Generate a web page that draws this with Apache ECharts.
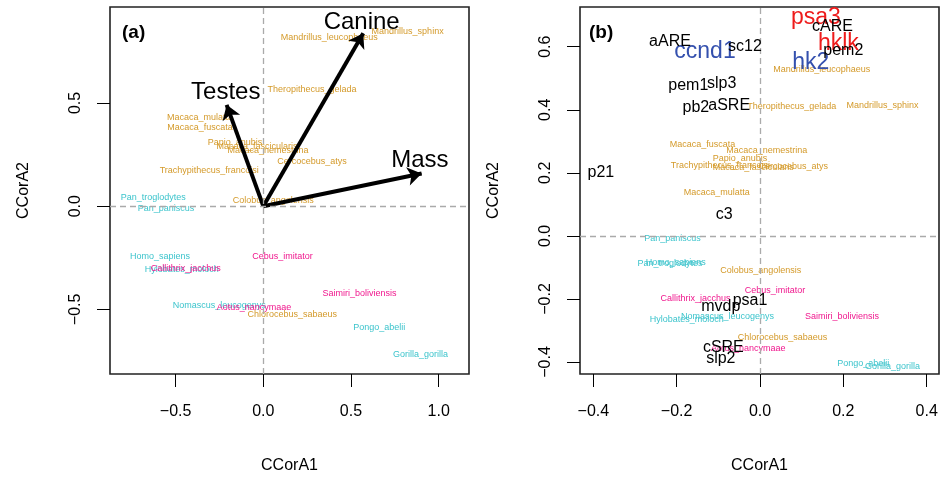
<!DOCTYPE html>
<html>
<head>
<meta charset="utf-8">
<script src="https://cdn.jsdelivr.net/npm/echarts@6/dist/echarts.min.js"></script>
<style>
html, body { margin: 0; padding: 0; background: #fff; }
#main { width: 942px; height: 479px; }
</style>
</head>
<body>
<div id="main"></div>
<script>
// species scores, panel (a): [CCorA1, CCorA2, name, group]
const speciesA = [
  [0.376, 0.816, 'Mandrillus_leucophaeus', 'cerco'],
  [0.823, 0.844, 'Mandrillus_sphinx', 'cerco'],
  [0.278, 0.564, 'Theropithecus_gelada', 'cerco'],
  [-0.361, 0.432, 'Macaca_mulatta', 'cerco'],
  [-0.361, 0.382, 'Macaca_fuscata', 'cerco'],
  [-0.161, 0.309, 'Papio_anubis', 'cerco'],
  [-0.036, 0.288, 'Macaca_fascicularis', 'cerco'],
  [0.027, 0.272, 'Macaca_nemestrina', 'cerco'],
  [0.278, 0.214, 'Cercocebus_atys', 'cerco'],
  [-0.308, 0.171, 'Trachypithecus_francoisi', 'cerco'],
  [0.057, 0.029, 'Colobus_angolensis', 'cerco'],
  [0.165, -0.523, 'Chlorocebus_sabaeus', 'cerco'],
  [-0.627, 0.042, 'Pan_troglodytes', 'ape'],
  [-0.555, -0.010, 'Pan_paniscus', 'ape'],
  [-0.589, -0.246, 'Homo_sapiens', 'ape'],
  [-0.465, -0.309, 'Hylobates_moloch', 'ape'],
  [-0.251, -0.483, 'Nomascus_leucogenys', 'ape'],
  [0.661, -0.588, 'Pongo_abelii', 'ape'],
  [0.897, -0.721, 'Gorilla_gorilla', 'ape'],
  [-0.442, -0.302, 'Callithrix_jacchus', 'nwm'],
  [0.110, -0.242, 'Cebus_imitator', 'nwm'],
  [0.548, -0.422, 'Saimiri_boliviensis', 'nwm'],
  [-0.053, -0.491, 'Aotus_nancymaae', 'nwm']
];

// trait vectors, panel (a): arrow tip and label position
const traitArrows = [
  [0.570, 0.838, 'Canine'],
  [-0.209, 0.491, 'Testes'],
  [0.903, 0.158, 'Mass']
];
const traitLabels = [
  [0.561, 0.889, 'Canine'],
  [-0.214, 0.550, 'Testes'],
  [0.893, 0.221, 'Mass']
];

// species scores, panel (b)
const speciesB = [
  [0.148, 0.527, 'Mandrillus_leucophaeus', 'cerco'],
  [0.076, 0.410, 'Theropithecus_gelada', 'cerco'],
  [0.294, 0.412, 'Mandrillus_sphinx', 'cerco'],
  [-0.138, 0.290, 'Macaca_fuscata', 'cerco'],
  [0.016, 0.271, 'Macaca_nemestrina', 'cerco'],
  [-0.048, 0.244, 'Papio_anubis', 'cerco'],
  [-0.095, 0.222, 'Trachypithecus_francoisi', 'cerco'],
  [-0.016, 0.216, 'Macaca_fascicularis', 'cerco'],
  [0.080, 0.221, 'Cercocebus_atys', 'cerco'],
  [-0.104, 0.139, 'Macaca_mulatta', 'cerco'],
  [0.002, -0.109, 'Colobus_angolensis', 'cerco'],
  [0.054, -0.323, 'Chlorocebus_sabaeus', 'cerco'],
  [-0.210, -0.009, 'Pan_paniscus', 'ape'],
  [-0.202, -0.083, 'Homo_sapiens', 'ape'],
  [-0.216, -0.086, 'Pan_troglodytes', 'ape'],
  [-0.078, -0.256, 'Nomascus_leucogenys', 'ape'],
  [-0.176, -0.265, 'Hylobates_moloch', 'ape'],
  [0.248, -0.405, 'Pongo_abelii', 'ape'],
  [0.318, -0.414, 'Gorilla_gorilla', 'ape'],
  [0.036, -0.172, 'Cebus_imitator', 'nwm'],
  [-0.155, -0.198, 'Callithrix_jacchus', 'nwm'],
  [0.197, -0.257, 'Saimiri_boliviensis', 'nwm'],
  [-0.028, -0.358, 'Aotus_nancymaae', 'nwm']
];

// gene scores, panel (b): [CCorA1, CCorA2, name, type]
const genesB = [
  [0.134, 0.692, 'psa3', 'up'],
  [0.188, 0.611, 'hklk', 'up'],
  [-0.132, 0.584, 'ccnd1', 'down'],
  [0.122, 0.550, 'hk2', 'down'],
  [0.174, 0.664, 'cARE', 'other'],
  [0.200, 0.587, 'pem2', 'other'],
  [-0.216, 0.617, 'aARE', 'other'],
  [-0.036, 0.602, 'sc12', 'other'],
  [-0.172, 0.476, 'pem1', 'other'],
  [-0.092, 0.484, 'slp3', 'other'],
  [-0.154, 0.406, 'pb2', 'other'],
  [-0.074, 0.413, 'aSRE', 'other'],
  [-0.382, 0.201, 'p21', 'other'],
  [-0.086, 0.068, 'c3', 'other'],
  [-0.024, -0.205, 'psa1', 'other'],
  [-0.094, -0.223, 'mvdp', 'other'],
  [-0.088, -0.354, 'cSRE', 'other'],
  [-0.094, -0.390, 'slp2', 'other']
];

const ticksAx = [-0.5, 0, 0.5, 1];
const ticksAy = [-0.5, 0, 0.5];
const ticksBx = [-0.4, -0.2, 0, 0.2, 0.4];
const ticksBy = [-0.4, -0.2, 0, 0.2, 0.4, 0.6];

const colors = { cerco: '#D49A2A', ape: '#3CC4CC', nwm: '#F0188E' };
const geneColors = { up: '#EE1C1C', down: '#3450AE', other: '#000' };
const geneSizes = { up: 23, down: 23, other: 16 };
const FONT = '"Liberation Sans", Arial, sans-serif';

const myChart = echarts.init(document.getElementById('main'));

function fmt (v) {
  return v.toFixed(1).replace('-', '\u2212');
}

function xAxisFor (grid, min, max, ticks) {
  return {
    gridIndex: grid, type: 'value', min: min, max: max,
    name: 'CCorA1', nameLocation: 'middle', nameGap: 84,
    nameTextStyle: { fontSize: 16, color: '#000', fontFamily: FONT },
    axisLine: { show: false, onZero: false },
    splitLine: { show: false },
    axisTick: { show: true, inside: false, length: 13, customValues: ticks, lineStyle: { color: '#000', width: 1 } },
    axisLabel: { customValues: ticks, formatter: fmt, margin: 30, fontSize: 16, color: '#000', fontFamily: FONT }
  };
}
function yAxisFor (grid, min, max, ticks) {
  return {
    gridIndex: grid, type: 'value', min: min, max: max,
    name: 'CCorA2', nameLocation: 'middle', nameGap: 78,
    nameTextStyle: { fontSize: 16, color: '#000', fontFamily: FONT },
    axisLine: { show: false, onZero: false },
    splitLine: { show: false },
    axisTick: { show: true, inside: false, length: 13, customValues: ticks, lineStyle: { color: '#000', width: 1 } },
    axisLabel: { customValues: ticks, formatter: fmt, rotate: 90, margin: 26, fontSize: 16, color: '#000', fontFamily: FONT }
  };
}

function textSeries (grid, rows, colorOf, sizeOf, z) {
  return {
    type: 'scatter', xAxisIndex: grid, yAxisIndex: grid, z: z || 3,
    symbolSize: 1, itemStyle: { color: 'rgba(0,0,0,0)', opacity: 1 },
    silent: true,
    data: rows.map(r => ({
      value: [r[0], r[1]], name: r[2],
      label: { color: colorOf(r[3]), fontSize: sizeOf(r[3]) }
    })),
    label: { show: true, position: 'inside', formatter: p => p.name, fontFamily: FONT, opacity: 1 }
  };
}

const zeroLines = {
  silent: true, symbol: 'none', label: { show: false },
  lineStyle: { color: '#aaa', type: [6, 4], width: 1.3 },
  data: [{ xAxis: 0 }, { yAxis: 0 }]
};

const sA = textSeries(0, speciesA, g => colors[g], () => 9, 3);
sA.markLine = zeroLines;
const sB = textSeries(1, speciesB, g => colors[g], () => 9, 3);
sB.markLine = zeroLines;

const option = {
  animation: false,
  backgroundColor: '#fff',
  grid: [
    { left: 110, top: 7, width: 359, height: 368, show: true, borderColor: '#222', borderWidth: 1.6, backgroundColor: 'transparent' },
    { left: 580, top: 7, width: 359, height: 368, show: true, borderColor: '#222', borderWidth: 1.6, backgroundColor: 'transparent' }
  ],
  xAxis: [
    xAxisFor(0, -0.874, 1.173, ticksAx),
    xAxisFor(1, -0.432, 0.4296, ticksBx)
  ],
  yAxis: [
    yAxisFor(0, -0.813, 0.965, ticksAy),
    yAxisFor(1, -0.438, 0.726, ticksBy)
  ],
  graphic: [
    { type: 'text', left: 122, top: 23, style: { text: '(a)', fontSize: 19, fontWeight: 'bold', fill: '#000', fontFamily: FONT } },
    { type: 'text', left: 589, top: 23, style: { text: '(b)', fontSize: 19, fontWeight: 'bold', fill: '#000', fontFamily: FONT } }
  ],
  series: [
    sA,
    {
      type: 'lines', coordinateSystem: 'cartesian2d', xAxisIndex: 0, yAxisIndex: 0, z: 4,
      silent: true,
      symbol: ['none', 'arrow'], symbolSize: 14,
      lineStyle: { color: '#000', width: 4, opacity: 1 },
      data: traitArrows.map(t => ({ coords: [[0, 0], [t[0], t[1]]] }))
    },
    textSeries(0, traitLabels.map(t => [t[0], t[1], t[2], 'trait']), () => '#000', () => 24, 5),
    sB,
    textSeries(1, genesB, g => geneColors[g], g => geneSizes[g], 5)
  ]
};

myChart.setOption(option);
</script>
</body>
</html>
